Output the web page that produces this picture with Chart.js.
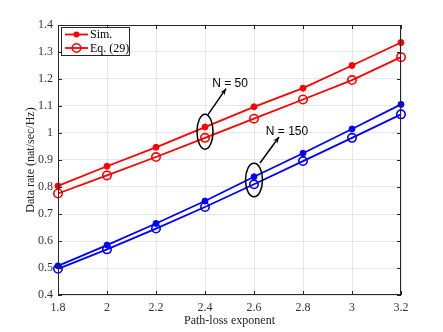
<!DOCTYPE html>
<html><head><meta charset="utf-8">
<script src="https://cdn.jsdelivr.net/npm/chart.js@4"></script>
<style>html,body{margin:0;padding:0;background:#fff}#wrap{width:443px;height:332px}</style>
</head><body><div id="wrap"><canvas id="c" width="443" height="332"></canvas></div>
<script>
const xLabels = ['1.8','2','2.2','2.4','2.6','2.8','3','3.2'];
const yTicks = [0.4,0.5,0.6,0.7,0.8,0.9,1,1.1,1.2,1.3,1.4];
const simN50 = [0.804,0.877,0.947,1.022,1.097,1.166,1.250,1.335];
const eqN50  = [0.776,0.843,0.911,0.982,1.053,1.124,1.196,1.281];
const simN150 = [0.508,0.585,0.665,0.748,0.838,0.925,1.015,1.106];
const eqN150  = [0.497,0.569,0.646,0.726,0.810,0.896,0.982,1.069];
const legendLabels = ['Sim.','Eq. (29)'];
const annotations = [
  {text:'N = 50', x:'2.4', y:1.005, rx:8, ry:17.5, ax0:[3,-17], ax1:[21,-43], tx:[25,-48]},
  {text:'N = 150', x:'2.6', y:0.826, rx:8.5, ry:16.7, ax0:[6,-17], ax1:[25,-43], tx:[33,-48]}
];

const red='#ff0000', blue='#0000ff';
function ds(label,data,color,filled){
  return {label,data,borderColor:color,backgroundColor:filled?color:'#fff',
    borderWidth:1.8,pointRadius:filled?3:4.2,pointBorderWidth:filled?1:1.6,
    pointBackgroundColor:filled?color:'rgba(0,0,0,0)',pointBorderColor:color,
    pointStyle:'circle',tension:0,fill:false};
}
const frame = {
  id:'frame',
  afterDraw(chart){
    const {ctx,chartArea:a,scales} = chart;
    ctx.save();
    ctx.strokeStyle='#262626';ctx.lineWidth=1;
    ctx.strokeRect(a.left+0.5,a.top+0.5,a.right-a.left-1,a.bottom-a.top-1);
    ctx.beginPath();
    scales.x.ticks.forEach((t,i)=>{const px=Math.round(scales.x.getPixelForTick(i))+0.5;
      ctx.moveTo(px,a.bottom);ctx.lineTo(px,a.bottom-4);ctx.moveTo(px,a.top);ctx.lineTo(px,a.top+4);});
    scales.y.ticks.forEach((t)=>{const py=Math.round(scales.y.getPixelForValue(t.value))+0.5;
      ctx.moveTo(a.left,py);ctx.lineTo(a.left+4,py);ctx.moveTo(a.right,py);ctx.lineTo(a.right-4,py);});
    ctx.stroke();
    ctx.strokeStyle='#000';ctx.fillStyle='#000';ctx.lineWidth=1.5;
    annotations.forEach(an=>{
      const cx=scales.x.getPixelForValue(xLabels.indexOf(an.x)), cy=scales.y.getPixelForValue(an.y);
      ctx.beginPath();ctx.ellipse(cx,cy,an.rx,an.ry,0,0,Math.PI*2);ctx.stroke();
      const x0=cx+an.ax0[0],y0=cy+an.ax0[1],x1=cx+an.ax1[0],y1=cy+an.ax1[1];
      ctx.beginPath();ctx.moveTo(x0,y0);ctx.lineTo(x1,y1);ctx.stroke();
      const ang=Math.atan2(y1-y0,x1-x0),L=7,W=0.4;
      ctx.beginPath();ctx.moveTo(x1,y1);
      ctx.lineTo(x1-L*Math.cos(ang-W),y1-L*Math.sin(ang-W));
      ctx.lineTo(x1-L*0.6*Math.cos(ang),y1-L*0.6*Math.sin(ang));
      ctx.lineTo(x1-L*Math.cos(ang+W),y1-L*Math.sin(ang+W));ctx.closePath();ctx.fill();
      ctx.font='12px "Liberation Sans", Arial, sans-serif';ctx.textAlign='center';ctx.textBaseline='middle';
      ctx.fillText(an.text,cx+an.tx[0],cy+an.tx[1]);
    });
    const lx=a.left+3, ly=a.top+2, lw=68, lh=28;
    ctx.fillStyle='#fff';ctx.fillRect(lx,ly,lw,lh);
    ctx.strokeStyle='#262626';ctx.lineWidth=1;ctx.strokeRect(lx+0.5,ly+0.5,lw,lh);
    legendLabels.forEach((lab,i)=>{
      const y=ly+7.5+i*13.5;
      ctx.strokeStyle=red;ctx.lineWidth=1.8;ctx.beginPath();ctx.moveTo(lx+4,y);ctx.lineTo(lx+27,y);ctx.stroke();
      ctx.beginPath();ctx.arc(lx+15.5,y,i===0?3:4.2,0,Math.PI*2);
      if(i===0){ctx.fillStyle=red;ctx.fill();}else{ctx.lineWidth=1.6;ctx.stroke();}
      ctx.fillStyle='#000';ctx.font='12px "Liberation Serif", "Times New Roman", serif';
      ctx.textAlign='left';ctx.textBaseline='middle';ctx.fillText(lab,lx+29,y+0.5);
    });
    ctx.restore();
  }
};
new Chart(document.getElementById('c'),{
  type:'line',
  data:{labels:xLabels,datasets:[
    ds('Sim. N=50',simN50,red,true),ds('Eq. (29) N=50',eqN50,red,false),
    ds('Sim. N=150',simN150,blue,true),ds('Eq. (29) N=150',eqN150,blue,false)]},
  options:{
    responsive:false,animation:false,devicePixelRatio:1,
    layout:{padding:{left:24,right:42,top:25,bottom:0}},
    plugins:{legend:{display:false},tooltip:{enabled:false}},
    scales:{
      x:{type:'category',offset:false,
        grid:{color:'#e6e6e6',lineWidth:1,tickLength:0,drawTicks:false},
        border:{display:false},
        ticks:{color:'#333',padding:6,maxRotation:0,autoSkip:false,font:{family:'"Liberation Serif", "Times New Roman", serif',size:12}},
        title:{display:true,text:'Path-loss exponent',color:'#222',padding:{top:0,bottom:4},font:{family:'"Liberation Serif", "Times New Roman", serif',size:12}},
        afterFit(s){s.height=37;}
      },
      y:{type:'linear',min:0.4,max:1.4,
        grid:{color:'#e6e6e6',lineWidth:1,drawTicks:false},
        border:{display:false},
        afterBuildTicks(s){s.ticks=yTicks.map(v=>({value:v}));},
        ticks:{color:'#333',padding:5,font:{family:'"Liberation Serif", "Times New Roman", serif',size:12},
          callback:(v)=>String(parseFloat(Number(v).toFixed(1)))},
        title:{display:true,text:'Data rate (nat/sec/Hz)',color:'#222',padding:{top:0,bottom:0},font:{family:'"Liberation Serif", "Times New Roman", serif',size:12}},
        afterFit(s){s.width=34;}
      }
    }
  },
  plugins:[frame]
});
</script></body></html>
